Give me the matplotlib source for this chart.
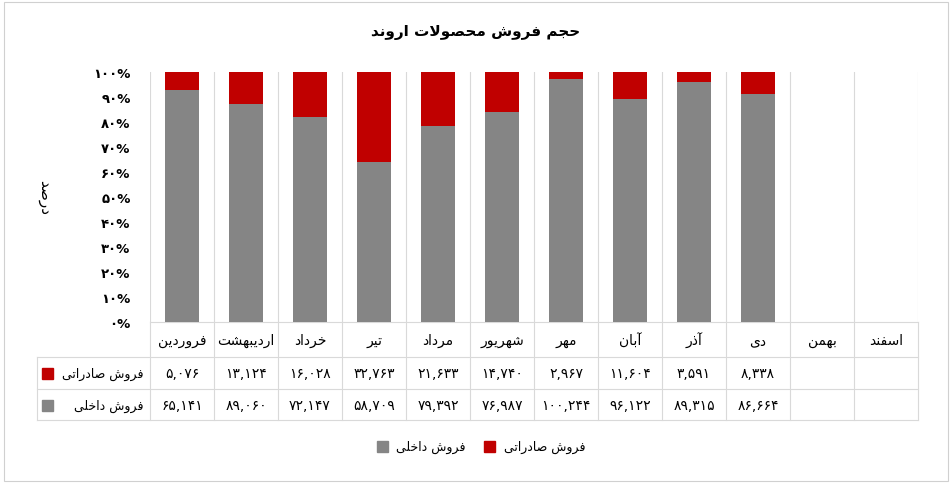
import matplotlib
matplotlib.use("Agg")
import matplotlib.pyplot as plt
import numpy as np
from matplotlib.transforms import blended_transform_factory

months = ["فروردین", "اردیبهشت", "خرداد", "تیر", "مرداد", "شهریور", "مهر", "آبان", "آذر", "دی", "بهمن", "اسفند"]
export = [5076, 13124, 16028, 32763, 21633, 14740, 2967, 11604, 3591, 8338, None, None]
domestic = [65141, 89060, 72147, 58709, 79392, 76987, 100244, 96122, 89315, 86664, None, None]
title = "حجم فروش محصولات اروند"
ylabel = "درصد"
s_export = "فروش صادراتی"
s_dom = "فروش داخلی"

# --- minimal Arabic/Persian shaper ---
F = {
 'آ': (0xFE81, 0xFE82, None, None), 'ا': (0xFE8D, 0xFE8E, None, None),
 'ب': (0xFE8F, 0xFE90, 0xFE91, 0xFE92), 'ت': (0xFE95, 0xFE96, 0xFE97, 0xFE98),
 'ج': (0xFE9D, 0xFE9E, 0xFE9F, 0xFEA0), 'ح': (0xFEA1, 0xFEA2, 0xFEA3, 0xFEA4),
 'خ': (0xFEA5, 0xFEA6, 0xFEA7, 0xFEA8), 'د': (0xFEA9, 0xFEAA, None, None),
 'ذ': (0xFEAB, 0xFEAC, None, None), 'ر': (0xFEAD, 0xFEAE, None, None),
 'ز': (0xFEAF, 0xFEB0, None, None), 'س': (0xFEB1, 0xFEB2, 0xFEB3, 0xFEB4),
 'ش': (0xFEB5, 0xFEB6, 0xFEB7, 0xFEB8), 'ص': (0xFEB9, 0xFEBA, 0xFEBB, 0xFEBC),
 'ط': (0xFEC1, 0xFEC2, 0xFEC3, 0xFEC4), 'ف': (0xFED1, 0xFED2, 0xFED3, 0xFED4),
 'ل': (0xFEDD, 0xFEDE, 0xFEDF, 0xFEE0), 'م': (0xFEE1, 0xFEE2, 0xFEE3, 0xFEE4),
 'ن': (0xFEE5, 0xFEE6, 0xFEE7, 0xFEE8), 'ه': (0xFEE9, 0xFEEA, 0xFEEB, 0xFEEC),
 'و': (0xFEED, 0xFEEE, None, None), 'ی': (0xFBFC, 0xFBFD, 0xFBFE, 0xFBFF),
 'ک': (0xFB8E, 0xFB8F, 0xFB90, 0xFB91), 'گ': (0xFB92, 0xFB93, 0xFB94, 0xFB95),
 'پ': (0xFB56, 0xFB57, 0xFB58, 0xFB59), 'چ': (0xFB7A, 0xFB7B, 0xFB7C, 0xFB7D),
}

def shape_word(w):
    chars = list(w)
    out = []
    i = 0
    n = len(chars)
    while i < n:
        c = chars[i]
        prev_joins = i > 0 and chars[i-1] in F and F[chars[i-1]][2] is not None
        if c == 'ل' and i + 1 < n and chars[i+1] == 'ا':
            out.append(chr(0xFEFC if prev_joins else 0xFEFB))
            i += 2
            continue
        if c not in F:
            out.append(c); i += 1; continue
        iso, fin, ini, med = F[c]
        next_ok = i + 1 < n and chars[i+1] in F and ini is not None
        if prev_joins and next_ok:
            out.append(chr(med))
        elif prev_joins:
            out.append(chr(fin))
        elif next_ok:
            out.append(chr(ini))
        else:
            out.append(chr(iso))
        i += 1
    return ''.join(out)

def fa(s):
    return ' '.join(shape_word(w) for w in s.split(' '))[::-1]

PD = str.maketrans("0123456789", "۰۱۲۳۴۵۶۷۸۹")
def fnum(v):
    return "" if v is None else f"{v:,}".translate(PD)

plt.rcParams['font.family'] = ['DejaVu Sans']
fig = plt.figure(figsize=(9.52, 4.85), dpi=100)
fig.patch.set_facecolor('white')
fig.add_artist(plt.Rectangle((0.004, 0.006), 0.992, 0.988, transform=fig.transFigure,
                             fill=False, ec='#d0d0d0', lw=0.8))
ax = fig.add_axes([150/952, 1-323/485, 768/952, 250/485])

x = np.arange(len(months))
tot = [(e + d) if e is not None else None for e, d in zip(export, domestic)]
dp = [d / t * 100 if t else 0 for d, t in zip(domestic, tot)]
ep = [e / t * 100 if t else 0 for e, t in zip(export, tot)]
ax.bar(x, dp, width=0.52, color='#858585', zorder=3)
ax.bar(x, ep, bottom=dp, width=0.52, color='#c00000', zorder=3)
ax.set_xlim(-0.5, 11.5)
ax.set_ylim(0, 100)
ax.set_yticks(np.arange(0, 101, 10))
ax.set_yticklabels([str(v).translate(PD) + "%" for v in range(0, 101, 10)],
                   fontsize=9.5, fontweight='bold')
ax.tick_params(axis='y', length=0, pad=14)
ax.set_xticks([])
for s in ax.spines.values():
    s.set_visible(False)
for b in np.arange(-0.5, 12, 1):
    ax.axvline(b, color='#d9d9d9', lw=0.8, zorder=1)

tr = blended_transform_factory(ax.transData, fig.transFigure)
def fy(p): return 1 - p / 485
rows = [323, 358, 390, 421]
xl = ax.transData.inverted().transform((fig.transFigure.transform((37/952, 0))))[0]
for k, yy in enumerate(rows):
    x0 = -0.5 if k == 0 else xl
    ax.plot([x0, 11.5], [fy(yy)] * 2, transform=tr, color='#d9d9d9', lw=0.8, clip_on=False)
for b in np.arange(-0.5, 12, 1):
    ax.plot([b, b], [fy(323), fy(421)], transform=tr, color='#d9d9d9', lw=0.8, clip_on=False)
ax.plot([xl, xl], [fy(358), fy(421)], transform=tr, color='#d9d9d9', lw=0.8, clip_on=False)

for i, m in enumerate(months):
    ax.text(i, fy(341), fa(m), transform=tr, ha='center', va='center', fontsize=10)
    ax.text(i, fy(374), fnum(export[i]), transform=tr, ha='center', va='center', fontsize=10)
    ax.text(i, fy(406), fnum(domestic[i]), transform=tr, ha='center', va='center', fontsize=10)

fig.text(143/952, fy(374), fa(s_export), ha='right', va='center', fontsize=9)
fig.text(143/952, fy(406), fa(s_dom), ha='right', va='center', fontsize=9)
fig.add_artist(plt.Rectangle((42/952, fy(380)), 11/952, 11/485, transform=fig.transFigure, color='#c00000'))
fig.add_artist(plt.Rectangle((42/952, fy(412)), 11/952, 11/485, transform=fig.transFigure, color='#858585'))

# legend
fig.text(585/952, fy(447), fa(s_export), ha='right', va='center', fontsize=9)
fig.add_artist(plt.Rectangle((484/952, fy(453)), 11/952, 11/485, transform=fig.transFigure, color='#c00000'))
fig.text(466/952, fy(447), fa(s_dom), ha='right', va='center', fontsize=9)
fig.add_artist(plt.Rectangle((377/952, fy(453)), 11/952, 11/485, transform=fig.transFigure, color='#858585'))

fig.text(0.5, fy(33), fa(title), ha='center', va='center', fontsize=11, fontweight='bold')
fig.text(45/952, fy(198), fa(ylabel), ha='center', va='center', fontsize=11, rotation=-90)

fig.savefig("out.png", dpi=100)
